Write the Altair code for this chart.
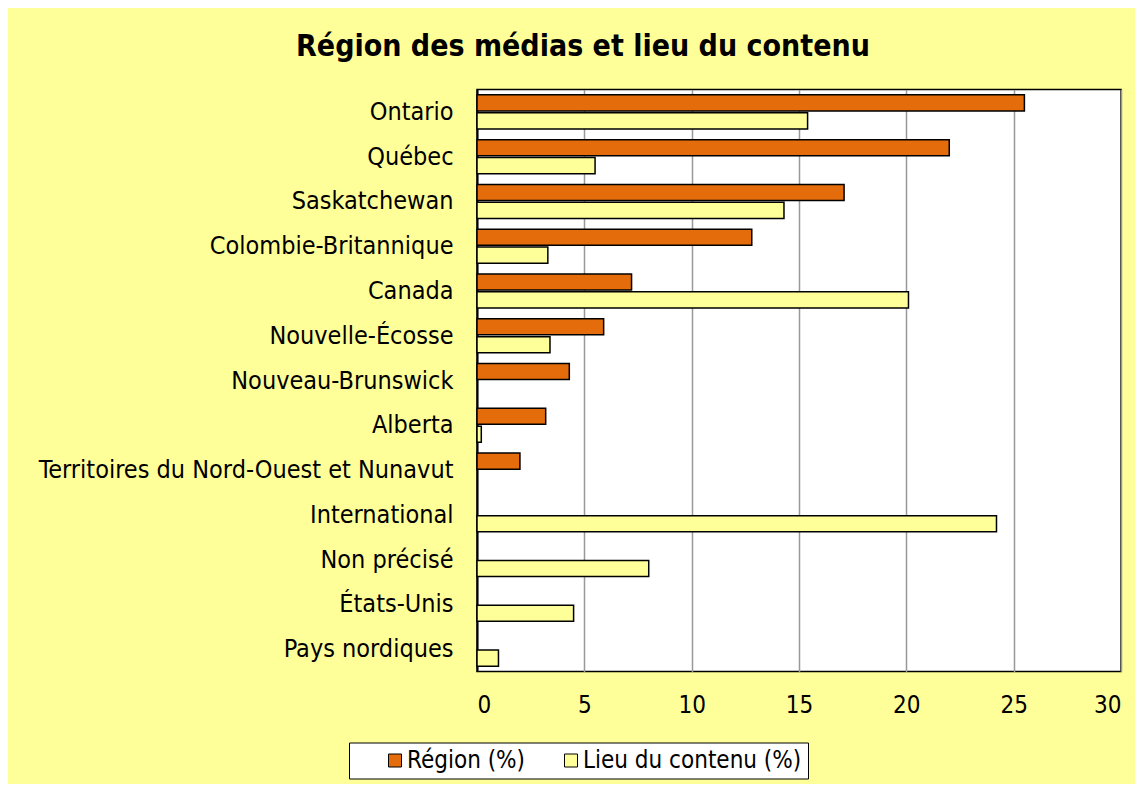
import altair as alt
import pandas as pd

categories = [
    "Ontario", "Québec", "Saskatchewan", "Colombie-Britannique", "Canada",
    "Nouvelle-Écosse", "Nouveau-Brunswick", "Alberta",
    "Territoires du Nord-Ouest et Nunavut", "International", "Non précisé",
    "États-Unis", "Pays nordiques",
]
region = [25.5, 22.0, 17.1, 12.8, 7.2, 5.9, 4.3, 3.2, 2.0, None, None, None, None]
lieu = [15.4, 5.5, 14.3, 3.3, 20.1, 3.4, None, 0.2, None, 24.2, 8.0, 4.5, 1.0]
series = ["Région (%)", "Lieu du contenu (%)"]
colors = ["#E46C0A", "#FFFF99"]
x_ticks = [0, 5, 10, 15, 20, 25, 30]
title_text = "Région des médias et lieu du contenu"

rows = []
for s, vals in zip(series, [region, lieu]):
    for c, v in zip(categories, vals):
        if v is not None:
            rows.append({"category": c, "series": s, "value": v})
df = pd.DataFrame(rows)

font = "DejaVu Sans Condensed, DejaVu Sans, sans-serif"

chart = alt.Chart(df).mark_bar(stroke="black", strokeWidth=1.5).encode(
    x=alt.X(
        "value:Q",
        scale=alt.Scale(domain=[0, 30], nice=False, zero=True),
        axis=alt.Axis(
            values=x_ticks, title=None, ticks=False, domain=False, grid=True,
            gridColor="#999999", gridWidth=1.5, labelFontSize=24,
            labelPadding=22, labelFont=font, labelColor="black",
        ),
    ),
    y=alt.Y(
        "category:N",
        sort=categories,
        scale=alt.Scale(domain=categories, paddingInner=0.24, paddingOuter=0.12),
        axis=alt.Axis(
            title=None, ticks=False, domain=True, domainColor="black",
            domainWidth=2, labelFontSize=25, labelPadding=24, labelLimit=700,
            labelColor="black", labelFont=font,
        ),
    ),
    yOffset=alt.YOffset("series:N", sort=series,
                        scale=alt.Scale(domain=series, paddingInner=0.1)),
    color=alt.Color(
        "series:N",
        sort=series,
        scale=alt.Scale(domain=series, range=colors),
        legend=alt.Legend(
            title=None, orient="none", legendX=-128, legendY=653,
            direction="horizontal", fillColor="white", strokeColor="black",
            padding=6, symbolType="square", symbolSize=169,
            symbolStrokeColor="black", symbolStrokeWidth=1,
            labelFontSize=24, labelFont=font, labelColor="black",
            labelOffset=0, labelLimit=500, columnPadding=5, symbolOffset=28,
        ),
    ),
).properties(
    width=644,
    height=582,
    background="#FFFF99",
    padding={"left": 469, "top": 81.5, "right": 14, "bottom": 112.5},
    autosize=alt.AutoSizeParams(type="none"),
    title=alt.TitleParams(
        title_text, fontSize=30, fontWeight="bold", font=font, color="black",
        anchor="middle", dx=-216, offset=30, dy=26, baseline="alphabetic",
    ),
).configure_view(
    stroke="black", strokeWidth=1.5, fill="white"
)

chart.save("out.html", embed_options={"renderer": "svg", "actions": False})
